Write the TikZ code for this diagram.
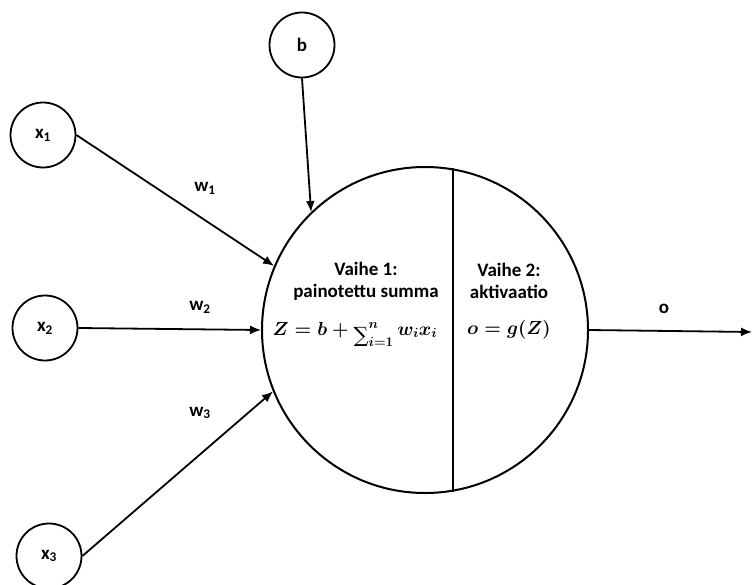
\RequirePackage{fix-cm}
\documentclass[tikz,border=0pt]{standalone}
\usepackage{amsmath}
\usepackage{fontspec}
\setmainfont{Carlito}
\newfontfamily\sumfont{DejaVu Serif}
\usetikzlibrary{arrows.meta}
\newcommand{\bigsumsym}{\mathop{\raisebox{-7pt}{\sumfont\fontsize{21}{21}\selectfont ∑}}\nolimits}
\begin{document}
\begin{tikzpicture}[x=1pt,y=-1pt,
  every node/.style={font=\fontsize{19}{22}\selectfont\bfseries},
  inp/.style={circle,draw,line width=1.8pt,minimum size=65pt,inner sep=0pt},
  arr/.style={line width=1.8pt,-{Latex[length=11pt,width=9pt]}},
  lbl/.style={inner sep=0pt},
  eq/.style={inner sep=0pt,font=\fontsize{19}{22}\selectfont\boldmath}]
\useasboundingbox (0,0) rectangle (752,584);
\node[circle,draw,line width=2pt,minimum size=326pt,inner sep=0pt] (n) at (425,330) {};
\node[inp] (x1) at (43,135) {x\textsubscript{1}};
\node[inp] (x2) at (45,328) {x\textsubscript{2}};
\node[inp] (x3) at (49,556) {x\textsubscript{3}};
\node[inp] (b) at (302,45) {b};
\coordinate (out) at (752,332);
\draw[arr] (x1.east) -- (n.157);
\draw[arr] (x2.east) -- (n.180);
\draw[arr] (x3.east) -- (n.202);
\draw[arr] (b.south) -- (n.134);
\draw[arr] (n.east) -- (out);
\draw[line width=2pt] (n.80.1) -- (n.-80.1);
\node[lbl] (w1) at (205,188) {w\textsubscript{1}};
\node[lbl] (w2) at (200,307) {w\textsubscript{2}};
\node[lbl] (w3) at (200,413) {w\textsubscript{3}};
\node[lbl] (o) at (664,309) {o};
\node[lbl,align=center] (s1) at (366,281) {Vaihe 1:\\painotettu summa};
\node[lbl,align=center] (s2) at (509,281) {Vaihe 2:\\aktivaatio};
\node[eq,anchor=base] (f1) at (355,335) {$Z = b + \bigsumsym_{i=1}^{n} w_i x_i$};
\node[eq,anchor=base] (f2) at (509,334) {$o = g(Z)$};
\end{tikzpicture}
\end{document}
